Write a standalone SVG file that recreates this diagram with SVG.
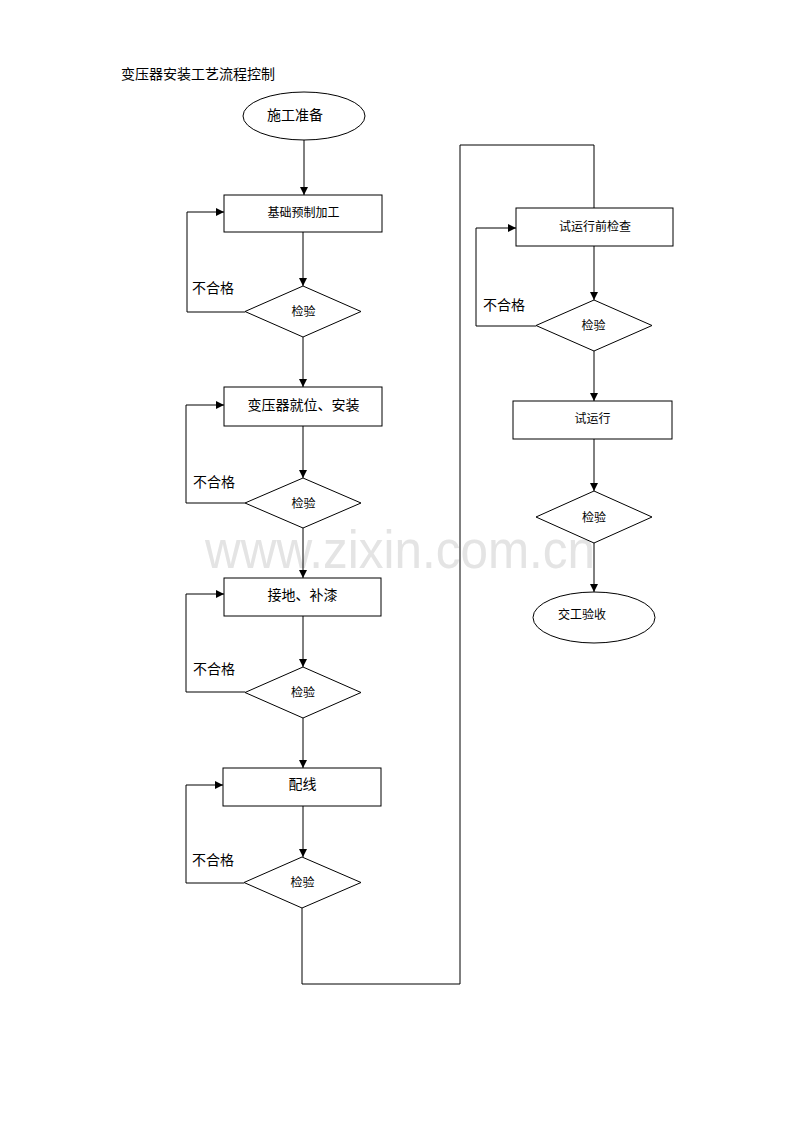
<svg xmlns="http://www.w3.org/2000/svg" width="800" height="1132" viewBox="0 0 800 1132">
<style>
.shape{fill:#fff;stroke:#000;stroke-width:1}
.line{fill:none;stroke:#000;stroke-width:1}
.t{font-family:"Liberation Serif","Noto Sans CJK SC",serif;fill:#000;dominant-baseline:central}
.m{text-anchor:middle}
.s14{font-size:14px}
.s12{font-size:12px}
.wm{font-family:"Liberation Sans",Arial,sans-serif;font-size:54px;fill:#e4e4e4}
</style>
<defs>
<marker id="arr" viewBox="0 0 10 10" refX="10" refY="5" markerWidth="8" markerHeight="8" markerUnits="userSpaceOnUse" orient="auto">
<path d="M0,0 L10,5 L0,10 z" fill="#000"/>
</marker>
</defs>
<rect width="800" height="1132" fill="#fff"/>
<text class="wm" x="205" y="568" textLength="390" lengthAdjust="spacingAndGlyphs">www.zixin.com.cn</text>
<text id="title" class="t s14" x="121" y="74">变压器安装工艺流程控制</text>

<g id="connectors">
<line class="line" x1="304" y1="140" x2="304" y2="195" marker-end="url(#arr)"/>
<line class="line" x1="303" y1="232" x2="303" y2="286" marker-end="url(#arr)"/>
<line class="line" x1="303" y1="337" x2="303" y2="387" marker-end="url(#arr)"/>
<line class="line" x1="303" y1="426" x2="303" y2="478" marker-end="url(#arr)"/>
<line class="line" x1="303" y1="528" x2="303" y2="578" marker-end="url(#arr)"/>
<line class="line" x1="303" y1="616" x2="303" y2="667" marker-end="url(#arr)"/>
<line class="line" x1="303" y1="718" x2="303" y2="768" marker-end="url(#arr)"/>
<line class="line" x1="303" y1="806" x2="303" y2="857" marker-end="url(#arr)"/>
<polyline class="line" points="302,908 302,984 460,984 460,145 594,145 594,208"/>
<line class="line" x1="594" y1="246" x2="594" y2="300" marker-end="url(#arr)"/>
<line class="line" x1="594" y1="351" x2="594" y2="401" marker-end="url(#arr)"/>
<line class="line" x1="594" y1="439" x2="594" y2="491" marker-end="url(#arr)"/>
<line class="line" x1="594" y1="543" x2="594" y2="592" marker-end="url(#arr)"/>
<polyline class="line" points="245,312 187,312 187,212 224,212" marker-end="url(#arr)"/>
<polyline class="line" points="245,503 186,503 186,405 224,405" marker-end="url(#arr)"/>
<polyline class="line" points="245,692 186,692 186,594 224,594" marker-end="url(#arr)"/>
<polyline class="line" points="244,883 186,883 186,785 223,785" marker-end="url(#arr)"/>
<polyline class="line" points="536,326 476,326 476,228 516,228" marker-end="url(#arr)"/>
<text class="t s14" x="192" y="288">不合格</text>
<text class="t s14" x="193" y="482">不合格</text>
<text class="t s14" x="193" y="669">不合格</text>
<text class="t s14" x="192" y="860">不合格</text>
<text class="t s14" x="483" y="305">不合格</text>
</g>

<g id="start">
<ellipse class="shape" cx="304" cy="116" rx="61" ry="24"/>
<text class="t s14 m" x="295" y="115">施工准备</text>
</g>
<g id="step1">
<rect class="shape" x="224" y="195" width="158" height="37"/>
<text class="t s12 m" x="303.5" y="213">基础预制加工</text>
</g>
<g id="check1">
<polygon class="shape" points="245,311.5 303,286 361,311.5 303,337"/>
<text class="t s12 m" x="303.5" y="312">检验</text>
</g>
<g id="step2">
<rect class="shape" x="224" y="387" width="158" height="39"/>
<text class="t s14 m" x="303.5" y="405">变压器就位、安装</text>
</g>
<g id="check2">
<polygon class="shape" points="245,503 303,478 361,503 303,528"/>
<text class="t s12 m" x="303.5" y="504">检验</text>
</g>
<g id="step3">
<rect class="shape" x="224" y="578" width="157" height="38"/>
<text class="t s14 m" x="302.5" y="595">接地、补漆</text>
</g>
<g id="check3">
<polygon class="shape" points="245,692.5 303,667 361,692.5 303,718"/>
<text class="t s12 m" x="303" y="693">检验</text>
</g>
<g id="step4">
<rect class="shape" x="223" y="768" width="158" height="38"/>
<text class="t s14 m" x="302.5" y="784">配线</text>
</g>
<g id="check4">
<polygon class="shape" points="244,882.5 302,857 361,882.5 302,908"/>
<text class="t s12 m" x="302.5" y="883">检验</text>
</g>
<g id="step5">
<rect class="shape" x="516" y="208" width="157" height="38"/>
<text class="t s12 m" x="595" y="227">试运行前检查</text>
</g>
<g id="check5">
<polygon class="shape" points="536,325.5 594,300 652,325.5 594,351"/>
<text class="t s12 m" x="593.5" y="326">检验</text>
</g>
<g id="step6">
<rect class="shape" x="513" y="401" width="159" height="38"/>
<text class="t s12 m" x="592.5" y="419">试运行</text>
</g>
<g id="check6">
<polygon class="shape" points="536,517 594,491 652,517 594,543"/>
<text class="t s12 m" x="594" y="518">检验</text>
</g>
<g id="end">
<ellipse class="shape" cx="594" cy="617.5" rx="61" ry="25.5"/>
<text class="t s12 m" x="582" y="614.5">交工验收</text>
</g>
</svg>
